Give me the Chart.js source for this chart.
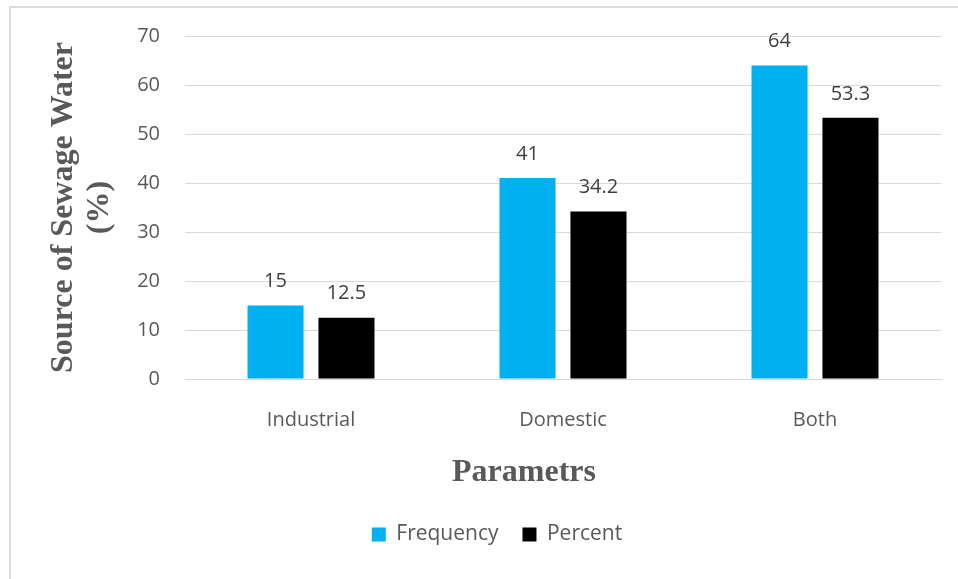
<!DOCTYPE html>
<html>
<head>
<meta charset="utf-8">
<script src="https://cdn.jsdelivr.net/npm/chart.js@4.4.1/dist/chart.umd.min.js"></script>
<style>
  html, body { margin: 0; padding: 0; background: #fff; overflow: hidden; }
  #frame {
    position: absolute; left: 9px; top: 6px;
    width: 980px; height: 600px;
    border: 2px solid #dcdcdc; box-sizing: border-box;
  }
  #wrap { position: absolute; left: 10px; top: 7px; width: 974px; height: 580px; }
</style>
</head>
<body>
<div id="frame"></div>
<div id="wrap"><canvas id="chart" width="974" height="580"></canvas></div>
<script>
// chart data
const categories = ['Industrial', 'Domestic', 'Both'];
const frequency = [15, 41, 64];
const percent = [12.5, 34.2, 53.3];
const yMin = 0;
const yMax = 70;
const yStep = 10;

const labelFont = { family: '"Open Sans", sans-serif', size: 20 };
const serifBold = { family: '"Liberation Serif", "Times New Roman", serif', size: 32, weight: 'bold', lineHeight: 1.15 };

// value labels above bars
const valueLabels = {
    id: 'valueLabels',
    afterDatasetsDraw(chart) {
        const ctx = chart.ctx;
        ctx.save();
        ctx.font = '20px "Open Sans", sans-serif';
        ctx.fillStyle = '#404040';
        ctx.textAlign = 'center';
        ctx.textBaseline = 'middle';
        chart.data.datasets.forEach(function(ds, i) {
            chart.getDatasetMeta(i).data.forEach(function(bar, j) {
                ctx.fillText(String(ds.data[j]), bar.x, bar.y - 24);
            });
        });
        ctx.restore();
    }
};

// x axis title, placed like the original (a little left of the plot centre)
const xTitle = {
    id: 'xTitle',
    afterDraw(chart) {
        const ctx = chart.ctx;
        const area = chart.chartArea;
        ctx.save();
        ctx.font = 'bold 32px "Liberation Serif", "Times New Roman", serif';
        ctx.fillStyle = '#595959';
        ctx.textAlign = 'center';
        ctx.textBaseline = 'middle';
        ctx.fillText('Parametrs', (area.left + area.right) / 2 - 39, area.bottom + 94);
        ctx.restore();
    }
};

new Chart(document.getElementById('chart'), {
    type: 'bar',
    data: {
        labels: categories,
        datasets: [
            { label: 'Frequency', data: frequency, backgroundColor: '#00B0F0' },
            { label: 'Percent', data: percent, backgroundColor: '#000000' }
        ]
    },
    options: {
        responsive: false,
        animation: false,
        categoryPercentage: 0.563,
        barPercentage: 0.79,
        layout: { padding: { top: 29, right: 43, bottom: 32, left: 43 } },
        plugins: {
            legend: {
                position: 'bottom',
                labels: {
                    boxWidth: 14,
                    boxHeight: 14,
                    padding: 24,
                    color: '#595959',
                    font: { family: '"Open Sans", sans-serif', size: 21 }
                }
            },
            tooltip: { enabled: false }
        },
        scales: {
            x: {
                grid: { display: false },
                border: { color: '#d9d9d9', width: 1 },
                ticks: { color: '#595959', font: labelFont, padding: 21 },
                afterFit(s) { s.height = 121; }
            },
            y: {
                min: yMin,
                max: yMax,
                grid: { color: '#d9d9d9', drawTicks: false },
                border: { display: false },
                ticks: { stepSize: yStep, color: '#595959', font: labelFont, padding: 25 },
                title: {
                    display: true,
                    text: ['Source of Sewage Water', '(%)'],
                    color: '#595959',
                    font: serifBold,
                    padding: { top: -8, bottom: 0 }
                },
                afterFit(s) {
                    s.width = 132;
                    s.paddingTop = 0;
                    s.paddingBottom = 0;
                }
            }
        }
    },
    plugins: [valueLabels, xTitle]
});
</script>
</body>
</html>
